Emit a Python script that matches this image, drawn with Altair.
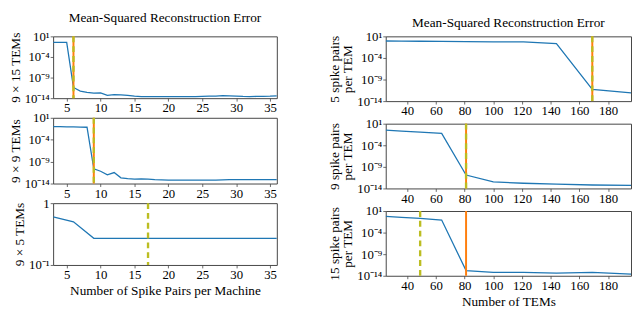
import altair as alt
import pandas as pd

FONT = "Liberation Serif"
BLUE = "#1f77b4"
ORANGE = "#ff7f0e"
OLIVE = "#bcbd22"
FRAME = "#444444"

TITLE = "Mean-Squared Reconstruction Error"
LEFT_XTITLE = "Number of Spike Pairs per Machine"
RIGHT_XTITLE = "Number of TEMs"

# ---------- left column: error vs. spike pairs per machine ----------
left_x = list(range(3, 37))
err_9x15 = [0.36, 0.36, 0.34, 4.0e-12, 5.0e-13, 2.5e-13, 1.6e-13, 1.8e-13, 5.0e-14,
            7.0e-14, 6.3e-14, 4.5e-14, 3.2e-14, 2.5e-14, 2.4e-14, 2.4e-14, 2.5e-14,
            2.5e-14, 2.4e-14, 2.4e-14, 2.5e-14, 2.5e-14, 2.8e-14, 3.0e-14, 3.3e-14,
            4.0e-14, 3.5e-14, 3.0e-14, 2.6e-14, 2.5e-14, 2.6e-14, 2.8e-14, 3.0e-14,
            3.5e-14]
err_9x9 = [0.1, 0.095, 0.09, 0.085, 0.078, 0.07, 2.2e-11, 6.3e-12, 1.0e-12, 3.2e-12,
           2.0e-13, 1.3e-13, 1.0e-13, 1.1e-13, 1.0e-13, 8.0e-14, 7.0e-14, 6.3e-14,
           6.3e-14, 6.3e-14, 6.3e-14, 6.3e-14, 6.3e-14, 6.3e-14, 6.3e-14, 7.0e-14,
           7.5e-14, 7.9e-14, 7.9e-14, 7.9e-14, 7.9e-14, 7.9e-14, 7.9e-14, 7.9e-14]
left5_x = list(range(3, 37, 3))
err_9x5 = [0.6, 0.5, 0.27, 0.27, 0.27, 0.27, 0.27, 0.27, 0.27, 0.27, 0.27, 0.27]
left_xticks = [5, 10, 15, 20, 25, 30, 35]

# ---------- right column: error vs. number of TEMs ----------
right_x = [25, 36, 49, 64, 81, 100, 121, 144, 169, 196]
err_5sp = [0.85, 0.79, 0.74, 0.68, 0.63, 0.56, 0.51, 0.2, 5.0e-12, 8.0e-13]
err_9sp = [0.31, 0.18, 0.11, 0.058, 1.3e-11, 3.2e-13, 1.6e-13, 1.0e-13, 6.3e-14, 5.0e-14]
err_15sp = [0.6, 0.35, 0.19, 0.083, 1.6e-13, 6.3e-14, 6.3e-14, 4.0e-14, 6.3e-14, 2.5e-14]
right_xticks = [40, 60, 80, 100, 120, 140, 160, 180]

# vertical markers (orange solid, olive dashed)
orange_at = {"9x15": 6, "9x9": 9, "9x5": None, "5sp": 169, "9sp": 81, "15sp": 81}
olive_at = {"9x15": 6, "9x9": 9, "9x5": 17, "5sp": 169, "9sp": 81, "15sp": 49}

big_yticks = [10, 1e-4, 1e-9, 1e-14]
small_yticks = [1, 0.1]
ytick_labels = {"e1": "10¹", "e0": "1", "em1": "10⁻¹", "em4": "10⁻⁴", "em9": "10⁻⁹", "em14": "10⁻¹⁴"}

label_expr = (
    f"datum.value > 5 ? '{ytick_labels['e1']}' : "
    f"datum.value > 0.5 ? '{ytick_labels['e0']}' : "
    f"datum.value > 0.05 ? '{ytick_labels['em1']}' : "
    f"datum.value > 1e-6 ? '{ytick_labels['em4']}' : "
    f"datum.value > 1e-11 ? '{ytick_labels['em9']}' : '{ytick_labels['em14']}'"
)


def panel(xs, ys, key, xdom, xticks, ydom, yticks, w, h, ytitle, xtitle="", title=None, title_offset=6):
    df = pd.DataFrame({"x": xs, "y": ys})
    xscale = alt.Scale(domain=xdom, nice=False, zero=False)
    yscale = alt.Scale(type="log", domain=ydom, nice=False)
    xaxis = alt.Axis(values=xticks, title=xtitle, format="d",
                     labelOverlap=False, labelFlush=False)
    line = alt.Chart(df).mark_line(color=BLUE, strokeWidth=1.3, clip=True).encode(
        x=alt.X("x:Q", scale=xscale, axis=xaxis),
        y=alt.Y("y:Q", scale=yscale,
                axis=alt.Axis(values=yticks, labelExpr=label_expr, title=ytitle,
                              labelOverlap=False, labelFlush=False)),
    )
    layers = [line]
    if orange_at[key] is not None:
        layers.append(
            alt.Chart(pd.DataFrame({"x": [orange_at[key]]}))
            .mark_rule(color=ORANGE, strokeWidth=2)
            .encode(x=alt.X("x:Q", scale=xscale, axis=xaxis))
        )
    if olive_at[key] is not None:
        layers.append(
            alt.Chart(pd.DataFrame({"x": [olive_at[key]]}))
            .mark_rule(color=OLIVE, strokeWidth=2.4, strokeDash=[6, 4])
            .encode(x=alt.X("x:Q", scale=xscale, axis=xaxis))
        )
    ch = alt.layer(*layers)
    if title is not None:
        ch = ch.properties(width=w, height=h,
                           title=alt.TitleParams(title, fontSize=13.5, font=FONT,
                                                 fontWeight="normal", offset=title_offset))
    else:
        ch = ch.properties(width=w, height=h)
    return ch


LW = 228
RW = 250
left = alt.vconcat(
    panel(left_x, err_9x15, "9x15", [3, 36], left_xticks, [1e-14, 10], big_yticks, LW, 63,
          "9 × 15 TEMs", title=TITLE, title_offset=6),
    panel(left_x, err_9x9, "9x9", [3, 36], left_xticks, [1e-14, 10], big_yticks, LW, 67,
          "9 × 9 TEMs"),
    panel(left5_x, err_9x5, "9x5", [3, 36], left_xticks, [0.1, 1], small_yticks, LW, 63,
          "9 × 5 TEMs", xtitle=LEFT_XTITLE),
    spacing=20, bounds="flush",
)

right = alt.vconcat(
    panel(right_x, err_5sp, "5sp", [25, 196], right_xticks, [1e-14, 10], big_yticks, RW, 66,
          ["5 spike pairs", "per TEM"], title=TITLE, title_offset=1),
    panel(right_x, err_9sp, "9sp", [25, 196], right_xticks, [1e-14, 10], big_yticks, RW, 66,
          ["9 spike pairs", "per TEM"]),
    panel(right_x, err_15sp, "15sp", [25, 196], right_xticks, [1e-14, 10], big_yticks, RW, 66,
          ["15 spike pairs", "per TEM"], xtitle=RIGHT_XTITLE),
    spacing=23, bounds="flush",
)

chart = alt.hconcat(left, right, spacing=50).properties(
    padding={"left": 0, "top": 0, "right": 0, "bottom": 0}
).configure(
    font=FONT,
).configure_view(
    stroke=FRAME, strokeWidth=1
).configure_axis(
    domain=False, grid=False, ticks=True, tickColor=FRAME, tickSize=3, tickWidth=0.8,
    labelFont=FONT, labelFontSize=13, labelColor="black", labelPadding=1,
    labelOverlap=False,
    titleFont=FONT, titleFontSize=13.5, titleFontWeight="normal", titleColor="black",
    titlePadding=2, titleLineHeight=14,
)

chart.save("out.html", embed_options={"renderer": "svg", "actions": False})
